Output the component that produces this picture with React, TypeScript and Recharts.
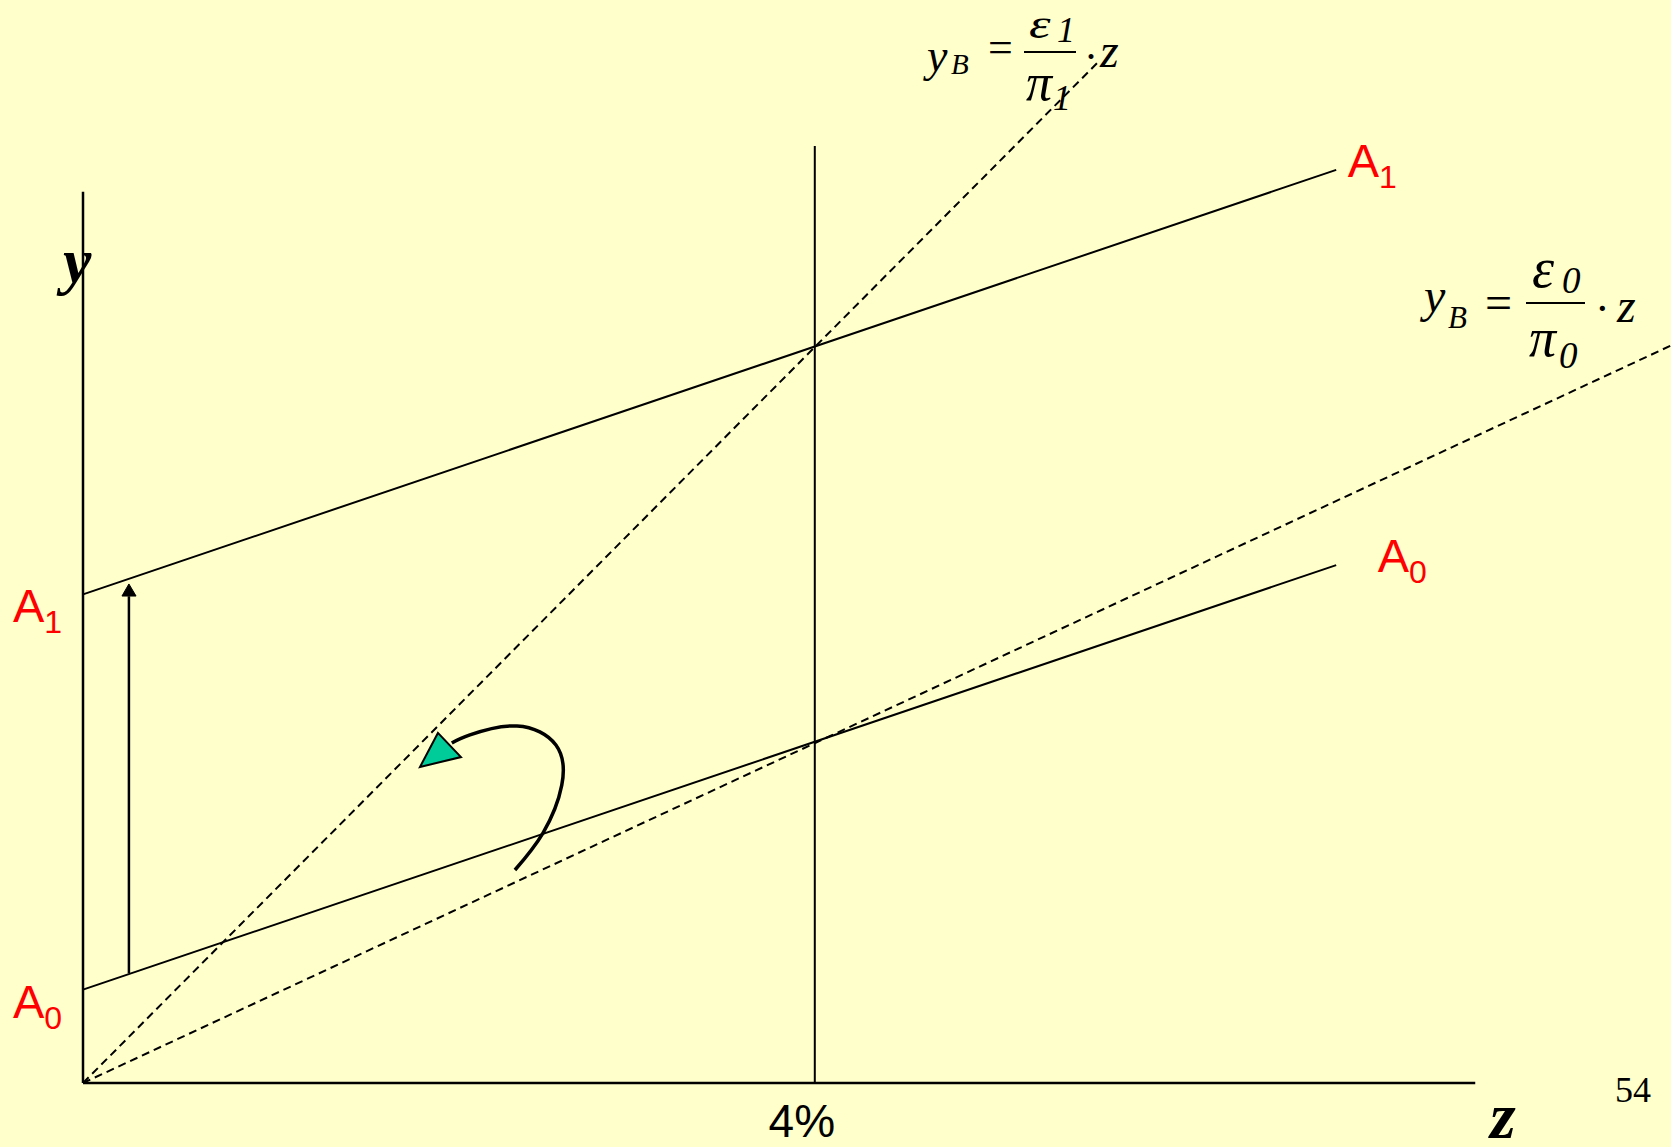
import React from 'react';
import { ComposedChart, Line, XAxis, YAxis } from 'recharts';

const W = 1671;
const H = 1147;

// z in percent, y in the same units (one unit = 183px on both axes)
const Z_MAX = 8.678;
const Y_MAX = 5.918;

const yAxisLine = [{ z: 0, y: 0 }, { z: 0, y: 4.87 }];
const zAxisLine = [{ z: 0, y: 0 }, { z: 7.61, y: 0 }];
const fourPctLine = [{ z: 4, y: 0 }, { z: 4, y: 5.12 }];

const a1Line = [{ z: 0, y: 2.67 }, { z: 6.85, y: 4.99 }];
const a0Line = [{ z: 0, y: 0.51 }, { z: 6.85, y: 2.83 }];

// y_B = eps/pi * z rays
const yb1Line = [{ z: 0, y: 0 }, { z: 5.56, y: 5.59 }];
const yb0Line = [{ z: 0, y: 0 }, { z: 8.68, y: 4.03 }];

// shift arrow A0 -> A1
const shiftShaft = [{ z: 0.251, y: 0.6 }, { z: 0.251, y: 2.66 }];
const shiftHead = [{ z: 0.251, y: 2.727 }, { z: 0.213, y: 2.661 }, { z: 0.29, y: 2.661 }];

// rotation arrow
const rotateCurve = [
  { z: 2.361, y: 1.164 },
  { z: 2.514, y: 1.366 },
  { z: 2.617, y: 1.628 },
  { z: 2.585, y: 1.847 },
  { z: 2.372, y: 1.951 },
  { z: 2.115, y: 1.902 },
  { z: 2.016, y: 1.858 },
];
const rotateHead = [{ z: 1.94, y: 1.913 }, { z: 2.066, y: 1.781 }, { z: 1.842, y: 1.727 }];

const yTicks = [0.51, 2.67];
const yTickSubs = ['0', '1'];
const zTicks = [4];
const zTickLabels = ['4%'];

const SANS = '"Liberation Sans", Arial, sans-serif';
const SERIF = '"Liberation Serif", "Times New Roman", serif';
const RED = '#FF0000';

function headDot(n: number, fill: string, strokeW: number) {
  let acc: number[][] = [];
  return (p: any) => {
    if (p.index === 0) acc = [];
    acc.push([p.cx, p.cy]);
    if (p.index !== n - 1) return <g key={`h-${p.index}`} />;
    const pts =
      p.points && p.points.length === n ? p.points.map((q: any) => [q.x, q.y]) : acc;
    return (
      <polygon
        key="head"
        points={pts.map((q: number[]) => q.join(',')).join(' ')}
        fill={fill}
        stroke="#000"
        strokeWidth={strokeW}
      />
    );
  };
}

function endLabel(n: number, sub: string, dx: number, dy: number) {
  return (p: any) =>
    p.index === n - 1 ? (
      <text key="lbl" x={p.cx + dx} y={p.cy + dy} fill={RED} fontFamily={SANS} fontSize={47}>
        A
        <tspan fontSize={32} dy={11}>
          {sub}
        </tspan>
      </text>
    ) : (
      <g key={`d-${p.index}`} />
    );
}

const YTick = (props: any) => {
  const i = yTicks.indexOf(props.payload.value);
  return (
    <text x={13} y={props.y + 28} fill={RED} fontFamily={SANS} fontSize={47}>
      A
      <tspan fontSize={32} dy={11}>
        {yTickSubs[i]}
      </tspan>
    </text>
  );
};

const ZTick = (props: any) => {
  const i = zTicks.indexOf(props.payload.value);
  return (
    <text x={props.x - 13} y={1137} textAnchor="middle" fill="#000" fontFamily={SANS} fontSize={46}>
      {zTickLabels[i]}
    </text>
  );
};

const T = (p: {
  x: number;
  y: number;
  s: number;
  it?: boolean;
  b?: boolean;
  sx?: number;
  children: React.ReactNode;
}) => (
  <text
    transform={`translate(${p.x},${p.y}) scale(${p.sx ?? 1},1)`}
    fontFamily={SERIF}
    fontSize={p.s}
    fontStyle={p.it ? 'italic' : 'normal'}
    fontWeight={p.b ? 'bold' : 'normal'}
    fill="#000"
  >
    {p.children}
  </text>
);

const Overlay = () => (
  <svg width={W} height={H} style={{ position: 'absolute', left: 0, top: 0 }}>
    {/* top equation */}
    <T x={927} y={71} s={46} it>y</T>
    <T x={951} y={74} s={29} it>B</T>
    <T x={988} y={62} s={44}>=</T>
    <line x1={1024} x2={1076} y1={52} y2={52} stroke="#000" strokeWidth={2} />
    <T x={1029} y={38} s={42} sx={1.3} it>ε</T>
    <T x={1057} y={42} s={36} it>1</T>
    <T x={1026} y={100} s={52} it>π</T>
    <T x={1053} y={110} s={36} it>1</T>
    <T x={1084} y={71} s={42}>·</T>
    <T x={1100} y={67} s={48} it>z</T>

    {/* right equation */}
    <T x={1424} y={312} s={48} it>y</T>
    <T x={1448} y={328} s={31} it>B</T>
    <T x={1485} y={319} s={48}>=</T>
    <line x1={1526} x2={1585} y1={303} y2={303} stroke="#000" strokeWidth={2} />
    <T x={1532} y={287} s={56} it>ε</T>
    <T x={1562} y={293} s={37} it>0</T>
    <T x={1529} y={356} s={54} it>π</T>
    <T x={1559} y={368} s={37} it>0</T>
    <T x={1595} y={323} s={44}>·</T>
    <T x={1617} y={322} s={48} it>z</T>

    {/* axis names and page number */}
    <T x={63} y={282} s={64} it b>y</T>
    <T x={1490} y={1138} s={66} it b>z</T>
    <T x={1615} y={1102} s={36}>54</T>
  </svg>
);

export default function App() {
  const solid = { type: 'linear' as const, dataKey: 'y', stroke: '#000', dot: false, activeDot: false, isAnimationActive: false };
  return (
    <div style={{ position: 'absolute', left: 0, top: 0, width: W, height: H, background: '#FFFFCC', overflow: 'hidden' }}>
      <Overlay />
      <div style={{ position: 'absolute', left: 0, top: 0 }}>
        <ComposedChart width={W} height={H} margin={{ top: 0, right: 0, bottom: 0, left: 0 }}>
          <XAxis
            type="number"
            dataKey="z"
            domain={[0, Z_MAX]}
            ticks={zTicks}
            tick={<ZTick />}
            height={64}
            axisLine={false}
            tickLine={false}
          />
          <YAxis
            type="number"
            dataKey="y"
            domain={[0, Y_MAX]}
            ticks={yTicks}
            tick={<YTick />}
            width={83}
            axisLine={false}
            tickLine={false}
          />
          <Line {...solid} data={yAxisLine} strokeWidth={2.5} />
          <Line {...solid} data={zAxisLine} strokeWidth={2.5} />
          <Line {...solid} data={fourPctLine} strokeWidth={2} />
          <Line {...solid} data={yb1Line} strokeWidth={2} strokeDasharray="8 5" />
          <Line {...solid} data={yb0Line} strokeWidth={2} strokeDasharray="8 5" />
          <Line {...solid} data={a1Line} strokeWidth={2} dot={endLabel(a1Line.length, '1', 11.5, 7.5)} />
          <Line {...solid} data={a0Line} strokeWidth={2} dot={endLabel(a0Line.length, '0', 41.5, 7)} />
          <Line {...solid} data={shiftShaft} strokeWidth={2.5} />
          <Line {...solid} data={shiftHead} stroke="none" dot={headDot(shiftHead.length, '#000', 1)} />
          <Line {...solid} type="natural" data={rotateCurve} strokeWidth={3.5} />
          <Line {...solid} data={rotateHead} stroke="none" dot={headDot(rotateHead.length, '#00CC99', 2)} />
        </ComposedChart>
      </div>
    </div>
  );
}
